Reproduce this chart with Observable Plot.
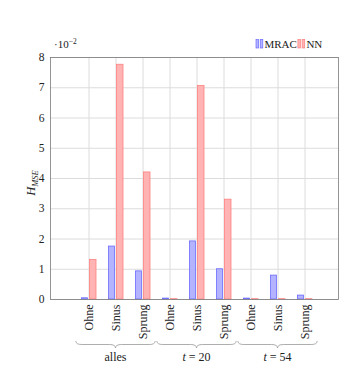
<!DOCTYPE html>
<html>
<head>
<meta charset="utf-8">
<script src="https://cdn.jsdelivr.net/npm/d3@7"></script>
<script src="https://cdn.jsdelivr.net/npm/@observablehq/plot@0.6"></script>
<style>
  body { margin: 0; background: #fff; }
  #chart svg { display: block; }
  #chart svg, #chart svg text { font-family: 'Liberation Serif', 'DejaVu Serif', serif !important; }
</style>
</head>
<body>
<div id="chart"></div>
<script>
const categories = ["Ohne", "Sinus", "Sprung"];
const groups = ["alles", "t = 20", "t = 54"];
const series = ["MRAC", "NN"];
const yTicks = [0, 1, 2, 3, 4, 5, 6, 7, 8];
// values in units of 10^-2
const mracValues = [0.04, 1.75, 0.93, 0.03, 1.92, 1.0, 0.03, 0.79, 0.13];
const nnValues = [1.31, 7.76, 4.2, 0.01, 7.06, 3.3, 0.01, 0.01, 0.01];

const keys = groups.flatMap(g => categories.map(c => g + "|" + c));
const data = [];
keys.forEach((k, i) => {
  data.push({key: k, series: "MRAC", value: mracValues[i]});
  data.push({key: k, series: "NN", value: nnValues[i]});
});

const colors = {
  MRAC: {fill: "#b3b3ff", stroke: "#6b6bff"},
  NN: {fill: "#ffb3b3", stroke: "#ff8080"}
};
const font = "'Liberation Serif', 'DejaVu Serif', serif";

const chart = Plot.plot({
  width: 364,
  height: 390,
  marginTop: 57,
  marginBottom: 91,
  marginLeft: 50,
  marginRight: 26,
  style: {fontFamily: font, fontSize: "10px", color: "#222", background: "#fff"},
  x: {type: "band", domain: keys, paddingInner: 0, paddingOuter: 0.66, align: 0.55},
  y: {domain: [0, 8]},
  marks: [
    Plot.gridY(yTicks, {stroke: "#dcdcdc", strokeOpacity: 1}),
    Plot.gridX(keys, {stroke: "#dcdcdc", strokeOpacity: 1}),
    Plot.barY(data.filter(d => d.series === "MRAC"), {
      x: "key", y: "value", fill: colors.MRAC.fill, stroke: colors.MRAC.stroke,
      strokeWidth: 0.8, insetLeft: 6.5, insetRight: 14.5
    }),
    Plot.barY(data.filter(d => d.series === "NN"), {
      x: "key", y: "value", fill: colors.NN.fill, stroke: colors.NN.stroke,
      strokeWidth: 0.8, insetLeft: 14.5, insetRight: 6
    }),
    Plot.frame({stroke: "#7a7a7a", strokeWidth: 0.8}),
    Plot.axisY(yTicks, {tickSize: 0, tickPadding: 6, fontSize: 11.5, label: null}),
    Plot.axisX({tickSize: 0, tickRotate: -90, tickPadding: 5, fontSize: 12, label: null,
      tickFormat: d => d.split("|")[1]})
  ]
});

document.getElementById("chart").appendChild(chart);

const svg = d3.select(chart);
const sx = chart.scale("x");
const sy = chart.scale("y");
const bw = sx.bandwidth;
const step = sx.step !== undefined ? sx.step : bw;
const center = k => sx.apply(k) + bw / 2;

// group braces and labels
const braceTop = 341, braceDepth = 7;
groups.forEach(g => {
  const x0 = center(g + "|" + categories[0]) - step * 0.47;
  const x1 = center(g + "|" + categories[categories.length - 1]) + step * 0.47;
  const xm = (x0 + x1) / 2;
  const r = 3;
  const ym = braceTop + braceDepth / 2;
  const path = `M${x0},${braceTop} Q${x0},${ym} ${x0 + r * 2},${ym} L${xm - r * 2},${ym} Q${xm},${ym} ${xm},${braceTop + braceDepth} Q${xm},${ym} ${xm + r * 2},${ym} L${x1 - r * 2},${ym} Q${x1},${ym} ${x1},${braceTop}`;
  svg.append("path").attr("d", path).attr("fill", "none").attr("stroke", "#999").attr("stroke-width", 0.8);
  const t = svg.append("text").attr("x", xm).attr("y", 361).attr("text-anchor", "middle")
    .attr("font-family", font).attr("font-size", 12).attr("fill", "#222");
  if (g.startsWith("t")) {
    t.append("tspan").attr("font-style", "italic").text("t");
    t.append("tspan").text(g.slice(1));
  } else {
    t.text(g);
  }
});

// exponent label
const ex = svg.append("text").attr("x", sx.range[0] + 4).attr("y", 48).attr("text-anchor", "start")
  .attr("font-family", font).attr("font-size", 11).attr("fill", "#222");
ex.append("tspan").text("·10");
ex.append("tspan").attr("dy", -4).attr("font-size", 7.5).text("−2");

// y label
const ylab = svg.append("text")
  .attr("transform", `translate(35,${(sy.range[0] + sy.range[1]) / 2 + 5}) rotate(-90)`)
  .attr("text-anchor", "middle").attr("font-family", font).attr("font-size", 12.5).attr("fill", "#222");
ylab.append("tspan").attr("font-style", "italic").text("H");
ylab.append("tspan").attr("font-style", "italic").attr("font-size", 8.5).attr("dy", 3).text("MSE");

// legend
const legend = svg.append("g").attr("font-family", font).attr("font-size", 11).attr("fill", "#222")
  .attr("text-anchor", "start");
let lx = 256;
series.forEach(s => {
  const c = colors[s];
  legend.append("rect").attr("x", lx).attr("y", 39.5).attr("width", 2.6).attr("height", 8.5)
    .attr("fill", c.fill).attr("stroke", c.stroke).attr("stroke-width", 0.7);
  legend.append("rect").attr("x", lx + 4.2).attr("y", 39.5).attr("width", 2.6).attr("height", 8.5)
    .attr("fill", c.fill).attr("stroke", c.stroke).attr("stroke-width", 0.7);
  const txt = legend.append("text").attr("x", lx + 8.5).attr("y", 48).text(s);
  lx += 8.5 + txt.node().getComputedTextLength() + 1;
});
</script>
</body>
</html>
